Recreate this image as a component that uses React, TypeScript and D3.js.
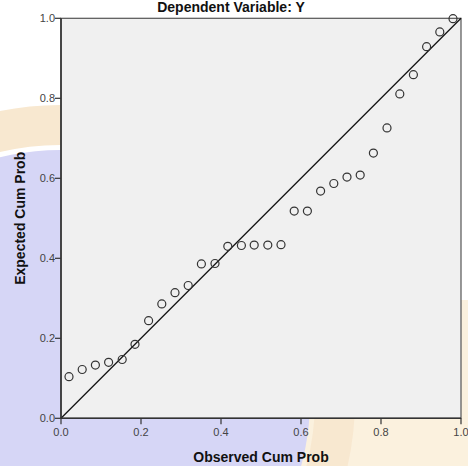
import React from 'react';
import * as d3 from 'd3';

// observed vs expected cumulative probabilities
const observed = [
  0.02, 0.053, 0.086, 0.119, 0.153, 0.185, 0.219, 0.252, 0.285, 0.318,
  0.351, 0.385, 0.417, 0.451, 0.483, 0.517, 0.55, 0.583, 0.616, 0.649,
  0.682, 0.715, 0.748, 0.781, 0.815, 0.847, 0.881, 0.914, 0.947, 0.98,
];
const expected = [
  0.104, 0.122, 0.133, 0.14, 0.147, 0.185, 0.244, 0.286, 0.314, 0.332,
  0.386, 0.387, 0.43, 0.432, 0.433, 0.433, 0.434, 0.518, 0.518, 0.568,
  0.587, 0.603, 0.608, 0.663, 0.726, 0.811, 0.859, 0.929, 0.966, 0.999,
];
const ticks = [0, 0.2, 0.4, 0.6, 0.8, 1.0];
const title = 'Dependent Variable: Y';
const xTitle = 'Observed Cum Prob';
const yTitle = 'Expected Cum Prob';

const width = 468;
const height = 466;
const margin = { top: 18.3, right: 7, bottom: 47.7, left: 61 };

export default function App() {
  const x = d3.scaleLinear().domain([0, 1]).range([margin.left, width - margin.right]);
  const y = d3.scaleLinear().domain([0, 1]).range([height - margin.bottom, margin.top]);
  const fmt = d3.format('.1f');
  const font = '"Liberation Sans", Arial, sans-serif';

  return (
    <svg
      width={width}
      height={height}
      style={{ position: 'absolute', left: 0, top: 0 }}
      fontFamily={font}
    >
      <rect width={width} height={height} fill="#ffffff" />
      {/* faint watermark behind the chart */}
      <rect x={0} y={300} width={width} height={166} fill="#fbf1de" />
      <circle cx={60} cy={400} r={275} fill="none" stroke="#f8e8d0" strokeWidth={40} />
      <circle cx={60} cy={400} r={250} fill="#d6d6f6" />

      <rect
        x={x(0)}
        y={y(1)}
        width={x(1) - x(0)}
        height={y(0) - y(1)}
        fill="#f0f0f0"
        stroke="#555"
        strokeWidth={1.2}
      />

      <line x1={x(0)} y1={y(0)} x2={x(1)} y2={y(1)} stroke="#111" strokeWidth={1.3} />

      {observed.map((d, i) => (
        <circle
          key={i}
          cx={x(d)}
          cy={y(expected[i])}
          r={4}
          fill="none"
          stroke="#333"
          strokeWidth={1.2}
        />
      ))}

      {/* axes */}
      <line x1={x(0)} y1={y(0)} x2={x(0)} y2={y(1)} stroke="#333" strokeWidth={1.6} />
      <line x1={x(0)} y1={y(0)} x2={x(1)} y2={y(0)} stroke="#333" strokeWidth={1.6} />

      {ticks.map((t) => (
        <g key={'y' + t}>
          <line x1={x(0) - 6} x2={x(0)} y1={y(t)} y2={y(t)} stroke="#333" strokeWidth={1.2} />
          <text x={x(0) - 6} y={y(t) + 4} textAnchor="end" fontSize={11} fill="#444">
            {fmt(t)}
          </text>
        </g>
      ))}
      {ticks.map((t) => (
        <g key={'x' + t}>
          <line x1={x(t)} x2={x(t)} y1={y(0)} y2={y(0) + 6} stroke="#333" strokeWidth={1.2} />
          <text x={x(t)} y={y(0) + 18} textAnchor="middle" fontSize={11} fill="#444">
            {fmt(t)}
          </text>
        </g>
      ))}

      <text x={231} y={12} textAnchor="middle" fontSize={14} fontWeight="bold" fill="#111">
        {title}
      </text>
      <text
        x={(x(0) + x(1)) / 2}
        y={462}
        textAnchor="middle"
        fontSize={14}
        fontWeight="bold"
        fill="#111"
      >
        {xTitle}
      </text>
      <text
        transform={`translate(25, ${(y(0) + y(1)) / 2}) rotate(-90)`}
        textAnchor="middle"
        fontSize={14}
        fontWeight="bold"
        fill="#111"
      >
        {yTitle}
      </text>
    </svg>
  );
}
